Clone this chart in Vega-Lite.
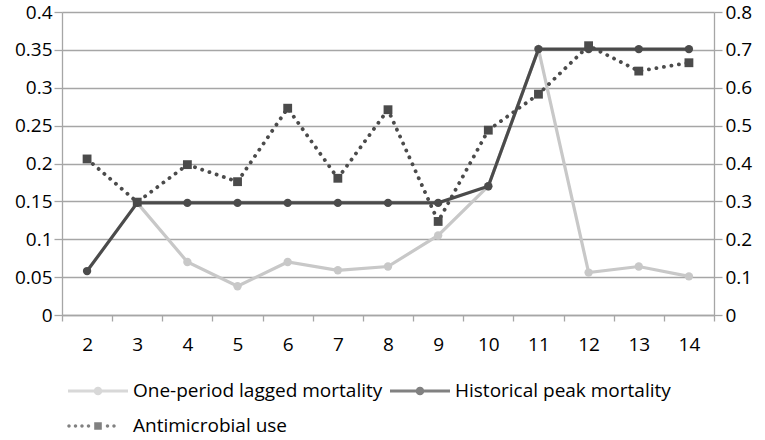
{
  "$schema": "https://vega.github.io/schema/vega-lite/v6.json",
  "width": 652,
  "height": 303,
  "autosize": "none",
  "padding": {"left": 62, "top": 12, "right": 51, "bottom": 125},
  "background": "white",
  "data": {
    "values": [
      {"period": 3, "series": "One-period lagged mortality", "value": 0.148},
      {"period": 4, "series": "One-period lagged mortality", "value": 0.070},
      {"period": 5, "series": "One-period lagged mortality", "value": 0.038},
      {"period": 6, "series": "One-period lagged mortality", "value": 0.070},
      {"period": 7, "series": "One-period lagged mortality", "value": 0.059},
      {"period": 8, "series": "One-period lagged mortality", "value": 0.064},
      {"period": 9, "series": "One-period lagged mortality", "value": 0.105},
      {"period": 10, "series": "One-period lagged mortality", "value": 0.170},
      {"period": 11, "series": "One-period lagged mortality", "value": 0.351},
      {"period": 12, "series": "One-period lagged mortality", "value": 0.056},
      {"period": 13, "series": "One-period lagged mortality", "value": 0.064},
      {"period": 14, "series": "One-period lagged mortality", "value": 0.051},
      {"period": 2, "series": "Historical peak mortality", "value": 0.058},
      {"period": 3, "series": "Historical peak mortality", "value": 0.148},
      {"period": 4, "series": "Historical peak mortality", "value": 0.148},
      {"period": 5, "series": "Historical peak mortality", "value": 0.148},
      {"period": 6, "series": "Historical peak mortality", "value": 0.148},
      {"period": 7, "series": "Historical peak mortality", "value": 0.148},
      {"period": 8, "series": "Historical peak mortality", "value": 0.148},
      {"period": 9, "series": "Historical peak mortality", "value": 0.148},
      {"period": 10, "series": "Historical peak mortality", "value": 0.170},
      {"period": 11, "series": "Historical peak mortality", "value": 0.351},
      {"period": 12, "series": "Historical peak mortality", "value": 0.351},
      {"period": 13, "series": "Historical peak mortality", "value": 0.351},
      {"period": 14, "series": "Historical peak mortality", "value": 0.351},
      {"period": 2, "series": "Antimicrobial use", "value": 0.412},
      {"period": 3, "series": "Antimicrobial use", "value": 0.298},
      {"period": 4, "series": "Antimicrobial use", "value": 0.397},
      {"period": 5, "series": "Antimicrobial use", "value": 0.352},
      {"period": 6, "series": "Antimicrobial use", "value": 0.546},
      {"period": 7, "series": "Antimicrobial use", "value": 0.361},
      {"period": 8, "series": "Antimicrobial use", "value": 0.542},
      {"period": 9, "series": "Antimicrobial use", "value": 0.247},
      {"period": 10, "series": "Antimicrobial use", "value": 0.488},
      {"period": 11, "series": "Antimicrobial use", "value": 0.583},
      {"period": 12, "series": "Antimicrobial use", "value": 0.711},
      {"period": 13, "series": "Antimicrobial use", "value": 0.644},
      {"period": 14, "series": "Antimicrobial use", "value": 0.666}
    ]
  },
  "encoding": {
    "x": {
      "field": "period",
      "type": "ordinal",
      "bandPosition": 0.5,
      "scale": {"type": "band", "paddingInner": 0, "paddingOuter": 0},
      "axis": {
        "title": null,
        "labelAngle": 0,
        "tickBand": "extent",
        "tickSize": 6,
        "labelPadding": 14,
        "grid": false
      }
    }
  },
  "layer": [
    {
      "encoding": {
        "y": {
          "field": "value",
          "type": "quantitative",
          "scale": {"domain": [0, 0.4]},
          "axis": {
            "title": null,
            "values": [0, 0.05, 0.1, 0.15, 0.2, 0.25, 0.3, 0.35, 0.4],
            "format": ".2~f",
            "grid": true,
            "tickSize": 8,
            "labelPadding": 2
          }
        }
      },
      "layer": [
        {
          "transform": [{"filter": "datum.series == 'One-period lagged mortality'"}],
          "mark": {"type": "line", "strokeWidth": 3.2, "color": "#c8c8c8"}
        },
        {
          "transform": [{"filter": "datum.series == 'One-period lagged mortality'"}],
          "mark": {"type": "point", "shape": "circle", "filled": true, "size": 70, "opacity": 1, "color": "#c8c8c8"}
        },
        {
          "transform": [{"filter": "datum.series == 'Historical peak mortality'"}],
          "mark": {"type": "line", "strokeWidth": 3.2, "color": "#4b4b4b"}
        },
        {
          "transform": [{"filter": "datum.series == 'Historical peak mortality'"}],
          "mark": {"type": "point", "shape": "circle", "filled": true, "size": 70, "opacity": 1, "color": "#4b4b4b"}
        },
        {
          "transform": [{"filter": "datum.value > 1"}],
          "mark": {"type": "point", "filled": true},
          "encoding": {
            "color": {
              "field": "series",
              "type": "nominal",
              "scale": {
                "domain": ["One-period lagged mortality", "Historical peak mortality", "Antimicrobial use"],
                "range": ["#c8c8c8", "#4b4b4b", "#4b4b4b"]
              },
              "legend": {
                "orient": "none",
                "legendX": 26,
                "legendY": 369,
                "direction": "horizontal",
                "columns": 2,
                "title": null,
                "symbolSize": 400,
                "symbolStrokeWidth": 0,
                "columnPadding": 7,
                "rowPadding": 15,
                "labelOffset": 25,
                "labelFontSize": 19,
                "labelFont": "Open Sans",
                "labelColor": "#000000",
                "labelLimit": 500
              }
            },
            "shape": {
              "field": "series",
              "type": "nominal",
              "scale": {
                "domain": ["One-period lagged mortality", "Historical peak mortality", "Antimicrobial use"],
                "range": [
                  "M-3,-0.15H3V0.15H-3Z M0.43,0A0.43,0.43,0,1,1,-0.43,0A0.43,0.43,0,1,1,0.43,0Z",
                  "M-3,-0.15H3V0.15H-3Z M0.43,0A0.43,0.43,0,1,1,-0.43,0A0.43,0.43,0,1,1,0.43,0Z",
                  "M-2.73,0A0.17,0.17,0,1,1,-3.07,0A0.17,0.17,0,1,1,-2.73,0Z M-2.08,0A0.17,0.17,0,1,1,-2.42,0A0.17,0.17,0,1,1,-2.08,0Z M-1.43,0A0.17,0.17,0,1,1,-1.77,0A0.17,0.17,0,1,1,-1.43,0Z M-0.78,0A0.17,0.17,0,1,1,-1.12,0A0.17,0.17,0,1,1,-0.78,0Z M-0.38,-0.38H0.38V0.38H-0.38Z M1.12,0A0.17,0.17,0,1,1,0.78,0A0.17,0.17,0,1,1,1.12,0Z M1.77,0A0.17,0.17,0,1,1,1.43,0A0.17,0.17,0,1,1,1.77,0Z"
                ]
              },
              "legend": {
                "orient": "none",
                "legendX": 26,
                "legendY": 369,
                "direction": "horizontal",
                "columns": 2,
                "title": null,
                "symbolSize": 400,
                "symbolStrokeWidth": 0,
                "columnPadding": 7,
                "rowPadding": 15,
                "labelOffset": 25,
                "labelFontSize": 19,
                "labelFont": "Open Sans",
                "labelColor": "#000000",
                "labelLimit": 500
              }
            }
          }
        }
      ]
    },
    {
      "transform": [{"filter": "datum.series == 'Antimicrobial use'"}],
      "encoding": {
        "y": {
          "field": "value",
          "type": "quantitative",
          "scale": {"domain": [0, 0.8]},
          "axis": {
            "title": null,
            "orient": "right",
            "values": [0, 0.1, 0.2, 0.3, 0.4, 0.5, 0.6, 0.7, 0.8],
            "format": ".1~f",
            "grid": false,
            "tickSize": 8,
            "labelPadding": 3
          }
        }
      },
      "layer": [
        {"mark": {"type": "line", "strokeWidth": 3.8, "strokeDash": [0.1, 7.5], "strokeCap": "round", "color": "#4b4b4b"}},
        {"mark": {"type": "point", "shape": "square", "filled": true, "size": 78, "opacity": 1, "color": "#4b4b4b"}}
      ]
    }
  ],
  "resolve": {"scale": {"y": "independent"}},
  "config": {
    "font": "Open Sans",
    "view": {"stroke": null},
    "axis": {
      "labelFont": "Open Sans",
      "labelFontSize": 19,
      "labelColor": "#000000",
      "domainColor": "#a6a6a6",
      "tickColor": "#a6a6a6",
      "gridColor": "#a6a6a6",
      "domainWidth": 1.3,
      "tickWidth": 1.3,
      "gridWidth": 1.3
    }
  }
}
